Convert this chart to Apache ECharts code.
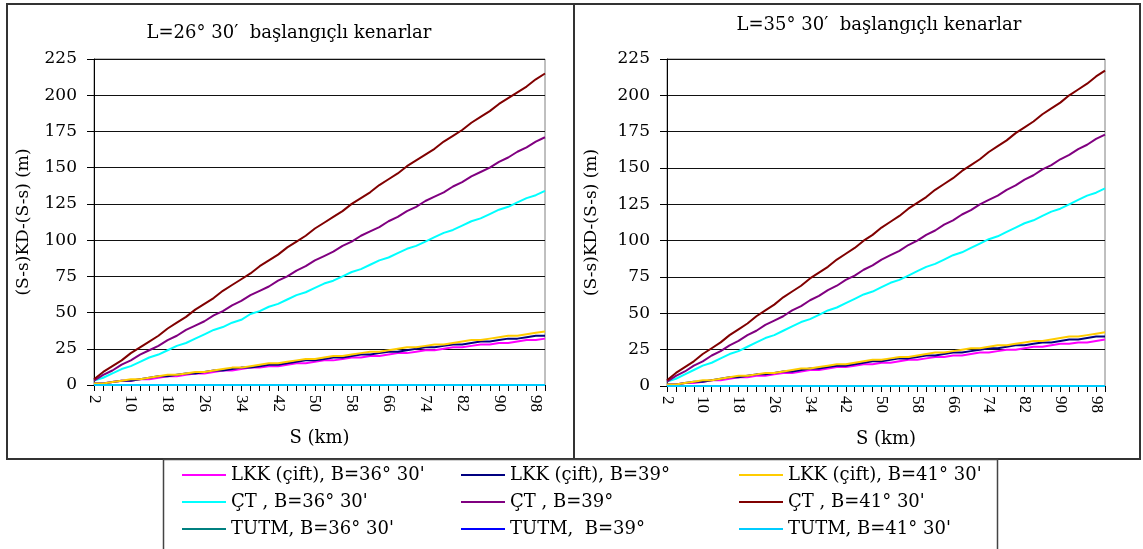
<!DOCTYPE html>
<html>
<head>
<meta charset="utf-8">
<script src="https://cdn.jsdelivr.net/npm/echarts@6/dist/echarts.min.js"></script>
<style>html,body{margin:0;padding:0;background:#fff;}#c{width:1143px;height:549px;}</style>
</head>
<body>
<div id="c"></div>
<script>
// Categories: S (km)
const sKm = [2,4,6,8,10,12,14,16,18,20,22,24,26,28,30,32,34,36,38,40,42,44,46,48,50,52,54,56,58,60,62,64,66,68,70,72,74,76,78,80,82,84,86,88,90,92,94,96,98,100];

// Left panel: L=26° 30'
const L_LKK_3630 = [1,1,2,3,3,4,4,5,6,6,7,8,8,9,10,10,11,12,12,13,13,14,15,15,16,17,17,18,19,19,20,20,21,22,22,23,24,24,25,26,26,27,28,28,29,29,30,31,31,32];
const L_LKK_39   = [1,1,2,3,3,4,5,6,6,7,8,8,9,10,10,11,12,12,13,14,14,15,16,17,17,18,19,19,20,21,21,22,23,23,24,25,26,26,27,28,28,29,30,30,31,32,32,33,34,34];
const L_LKK_4130 = [1,1,2,3,4,4,5,6,7,7,8,9,9,10,11,12,12,13,14,15,15,16,17,18,18,19,20,20,21,22,23,23,24,25,26,26,27,28,28,29,30,31,31,32,33,34,34,35,36,37];
const L_CT_3630  = [3,5,8,11,13,16,19,21,24,27,29,32,35,38,40,43,45,49,51,54,56,59,62,64,67,70,72,75,78,80,83,86,88,91,94,96,99,102,105,107,110,113,115,118,121,123,126,129,131,134];
const L_CT_39    = [3,7,10,14,17,21,24,27,31,34,38,41,44,48,51,55,58,62,65,68,72,75,79,82,86,89,92,96,99,103,106,109,113,116,120,123,127,130,133,137,140,144,147,150,154,157,161,164,168,171];
const L_CT_4130  = [4,9,13,17,22,26,30,34,39,43,47,52,56,60,65,69,73,77,82,86,90,95,99,103,108,112,116,120,125,129,133,138,142,146,151,155,159,163,168,172,176,181,185,189,194,198,202,206,211,215];
const L_TUTM_3630 = [0,0,0,0,0,0,0,0,0,0,0,0,0,0,0,0,0,0,0,0,0,0,0,0,0,0,0,0,0,0,0,0,0,0,0,0,0,0,0,0,0,0,0,0,0,0,0,0,0,0];
const L_TUTM_39   = [0,0,0,0,0,0,0,0,0,0,0,0,0,0,0,0,0,0,0,0,0,0,0,0,0,0,0,0,0,0,0,0,0,0,0,0,0,0,0,0,0,0,0,0,0,0,0,0,0,0];
const L_TUTM_4130 = [0,0,0,0,0,0,0,0,0,0,0,0,0,0,0,0,0,0,0,0,0,0,0,0,0,0,0,0,0,0,0,0,0,0,0,0,0,0,0,0,0,0,0,0,0,0,0,0,0,0];

// Right panel: L=35° 30'
const R_LKK_3630 = [1,1,2,2,3,4,4,5,6,6,7,7,8,9,9,10,11,11,12,13,13,14,15,15,16,16,17,18,18,19,20,20,21,21,22,23,23,24,25,25,26,27,27,28,29,29,30,30,31,32];
const R_LKK_39   = [1,1,2,3,3,4,5,6,6,7,8,8,9,10,10,11,12,12,13,14,14,15,16,17,17,18,19,19,20,21,21,22,23,23,24,25,26,26,27,28,28,29,30,30,31,32,32,33,34,34];
const R_LKK_4130 = [1,1,2,3,4,4,5,6,7,7,8,9,9,10,11,12,12,13,14,15,15,16,17,18,18,19,20,20,21,22,23,23,24,25,26,26,27,28,28,29,30,31,31,32,33,34,34,35,36,37];
const R_CT_3630  = [3,5,8,11,14,16,19,22,24,27,30,33,35,38,41,44,46,49,52,54,57,60,63,65,68,71,73,76,79,82,84,87,90,92,95,98,101,103,106,109,112,114,117,120,122,125,128,131,133,136];
const R_CT_39    = [3,7,10,14,17,21,24,28,31,35,38,42,45,48,52,55,59,62,66,69,73,76,80,83,87,90,93,97,100,104,107,111,114,118,121,125,128,131,135,138,142,145,149,152,156,159,163,166,170,173];
const R_CT_4130  = [4,9,13,17,22,26,30,35,39,43,48,52,56,61,65,69,74,78,82,87,91,95,100,104,109,113,117,122,126,130,135,139,143,148,152,156,161,165,169,174,178,182,187,191,195,200,204,208,213,217];
const R_TUTM_3630 = [0,0,0,0,0,0,0,0,0,0,0,0,0,0,0,0,0,0,0,0,0,0,0,0,0,0,0,0,0,0,0,0,0,0,0,0,0,0,0,0,0,0,0,0,0,0,0,0,0,0];
const R_TUTM_39   = [0,0,0,0,0,0,0,0,0,0,0,0,0,0,0,0,0,0,0,0,0,0,0,0,0,0,0,0,0,0,0,0,0,0,0,0,0,0,0,0,0,0,0,0,0,0,0,0,0,0];
const R_TUTM_4130 = [0,0,0,0,0,0,0,0,0,0,0,0,0,0,0,0,0,0,0,0,0,0,0,0,0,0,0,0,0,0,0,0,0,0,0,0,0,0,0,0,0,0,0,0,0,0,0,0,0,0];

const names = ["LKK (çift), B=36° 30'", "LKK (çift), B=39°", "LKK (çift), B=41° 30'",
               "ÇT , B=36° 30'", "ÇT , B=39°", "ÇT , B=41° 30'",
               "TUTM, B=36° 30'", "TUTM,  B=39°", "TUTM, B=41° 30'"];
const colors = ['#FF00FF', '#000080', '#FFCC00', '#00FFFF', '#800080', '#800000', '#008080', '#0000FF', '#00CCFF'];
const leftData = [L_LKK_3630, L_LKK_39, L_LKK_4130, L_CT_3630, L_CT_39, L_CT_4130, L_TUTM_3630, L_TUTM_39, L_TUTM_4130];
const rightData = [R_LKK_3630, R_LKK_39, R_LKK_4130, R_CT_3630, R_CT_39, R_CT_4130, R_TUTM_3630, R_TUTM_39, R_TUTM_4130];

const SERIF = 'DejaVu Serif';
const TIMES = 'Liberation Serif';

function xAx(idx) {
  return {
    type: 'category', gridIndex: idx, data: sKm, boundaryGap: false,
    axisLine: { lineStyle: { color: '#000', width: 1 } },
    axisTick: { interval: 0, length: 6, lineStyle: { color: '#000' } },
    axisLabel: { interval: 3, rotate: -90, fontFamily: TIMES, fontSize: 17, color: '#000', margin: 10 },
    splitLine: { show: false },
    name: 'S (km)', nameLocation: 'middle', nameGap: 44,
    nameTextStyle: { fontFamily: SERIF, fontSize: 18, color: '#000' }
  };
}
function yAx(idx, gap) {
  return {
    type: 'value', gridIndex: idx, min: 0, max: 225, interval: 25,
    axisLine: { show: true, lineStyle: { color: '#000', width: 1 } },
    axisTick: { show: true, length: 7, lineStyle: { color: '#000' } },
    axisLabel: { fontFamily: SERIF, fontSize: 17, color: '#000', margin: 17 },
    splitLine: { show: true, lineStyle: { color: '#111', width: 1 } },
    name: '(S-s)KD-(S-s) (m)', nameLocation: 'middle', nameGap: gap, nameRotate: 90,
    nameTextStyle: { fontFamily: SERIF, fontSize: 17, color: '#000' }
  };
}

const series = [];
[leftData, rightData].forEach((set, gi) => {
  set.forEach((d, i) => {
    series.push({
      name: names[i], type: 'line', xAxisIndex: gi, yAxisIndex: gi, data: d,
      symbol: 'none', showSymbol: false,
      lineStyle: { color: colors[i], width: 2 }, itemStyle: { color: colors[i] },
      emphasis: { disabled: true }
    });
  });
});

function legendCol(left, items) {
  return {
    orient: 'vertical', left: left, top: 460, itemWidth: 44, itemHeight: 2, icon: 'rect',
    itemGap: 7, itemTextGap: 8, selectedMode: false,
    textStyle: { fontFamily: SERIF, fontSize: 18, color: '#000', lineHeight: 20 },
    data: items
  };
}

const chart = echarts.init(document.getElementById('c'));
chart.setOption({
  animation: false,
  backgroundColor: '#fff',
  title: [
    { text: 'L=26° 30′  başlangıçlı kenarlar', left: 284, top: 19, textAlign: 'center',
      textStyle: { fontFamily: SERIF, fontSize: 18, fontWeight: 'normal', color: '#000' } },
    { text: 'L=35° 30′  başlangıçlı kenarlar', left: 874, top: 11, textAlign: 'center',
      textStyle: { fontFamily: SERIF, fontSize: 18, fontWeight: 'normal', color: '#000' } }
  ],
  grid: [
    { left: 94, top: 59, width: 451, height: 326, show: true, borderColor: '#808080', borderWidth: 1, backgroundColor: '#fff', containLabel: false },
    { left: 667, top: 59, width: 438, height: 327, show: true, borderColor: '#808080', borderWidth: 1, backgroundColor: '#fff', containLabel: false }
  ],
  xAxis: [xAx(0), xAx(1)],
  yAxis: [yAx(0, 62), yAx(1, 67)],
  legend: [
    legendCol(177, [names[0], names[3], names[6]]),
    legendCol(456, [names[1], names[4], names[7]]),
    legendCol(734, [names[2], names[5], names[8]])
  ],
  tooltip: { show: false },
  graphic: [
    { type: 'rect', silent: true, z: 100, shape: { x: 7, y: 4, width: 567, height: 455 }, style: { fill: 'none', stroke: '#333', lineWidth: 2 } },
    { type: 'rect', silent: true, z: 100, shape: { x: 574, y: 4, width: 566, height: 455 }, style: { fill: 'none', stroke: '#333', lineWidth: 2 } },
    { type: 'rect', silent: true, z: 100, shape: { x: 163.5, y: 459.5, width: 834, height: 100 }, style: { fill: 'none', stroke: '#444', lineWidth: 1.5 } }
  ],
  series: series
});
</script>
</body>
</html>
